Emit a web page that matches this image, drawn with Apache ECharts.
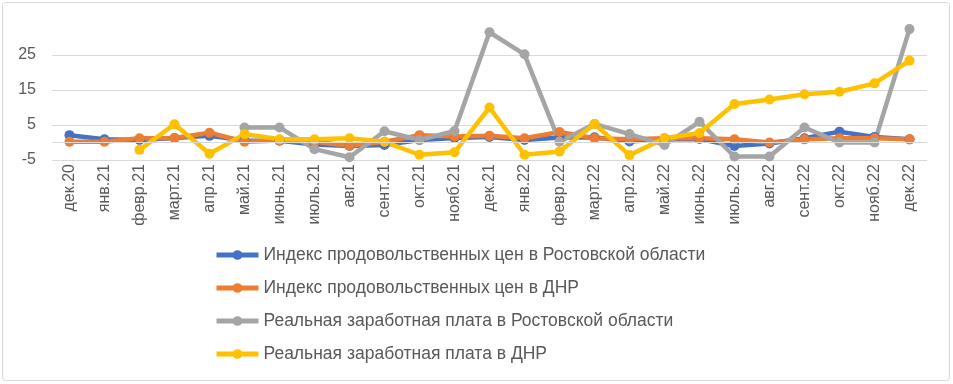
<!DOCTYPE html>
<html>
<head>
<meta charset="utf-8">
<script src="https://cdn.jsdelivr.net/npm/echarts@6/dist/echarts.min.js"></script>
<style>
html,body{margin:0;padding:0;background:#fff;}
#chart{width:953px;height:384px;}
</style>
</head>
<body>
<div id="chart"></div>
<script>
var categories = ['дек.20','янв.21','февр.21','март.21','апр.21','май.21','июнь.21','июль.21','авг.21','сент.21','окт.21','нояб.21','дек.21','янв.22','февр.22','март.22','апр.22','май.22','июнь.22','июль.22','авг.22','сент.22','окт.22','нояб.22','дек.22'];
var seriesNames = ['Индекс продовольственных цен в Ростовской области','Индекс продовольственных цен в ДНР','Реальная заработная плата в Ростовской области','Реальная заработная плата в ДНР'];
var foodRostov = [2.1, 0.9, 0.7, 1.3, 1.9, 0.6, 0.5, -0.6, -1.0, -0.7, 0.7, 1.3, 1.6, 0.7, 1.4, 1.5, 0.3, 0.9, 1.0, -1.0, -0.3, 1.2, 3.1, 1.6, 0.9];
var foodDNR = [0.2, 0.2, 1.2, 1.3, 2.8, 0.2, 0.6, 0.2, -0.9, 0.2, 2.1, 1.7, 1.9, 1.2, 3.0, 1.2, 0.9, 1.2, 1.2, 0.9, 0.0, 0.9, 1.2, 1.2, 0.9];
var wageRostov = [null, null, null, null, null, 4.3, 4.3, -1.9, -4.2, 3.2, 0.7, 3.3, 31.5, 25.2, 0.2, 5.3, 2.4, -0.7, 5.9, -4.0, -4.0, 4.3, 0.0, 0.0, 32.4];
var wageDNR = [null, null, -2.1, 5.2, -3.2, 2.4, 0.9, 0.9, 1.2, 0.2, -3.5, -2.8, 10.0, -3.5, -2.6, 5.3, -3.6, 1.2, 2.7, 11.0, 12.3, 13.8, 14.5, 16.9, 23.4];
var yMin = -5, yMax = 35, yInterval = 10;

var colors = ['#4472C4', '#ED7D31', '#A5A5A5', '#FFC000'];
var font = '"Liberation Sans", Arial, sans-serif';

function mkSeries(name, data, color, extra) {
  var s = {
    name: name,
    type: 'line',
    data: data,
    symbol: 'circle',
    symbolSize: 10,
    connectNulls: false,
    lineStyle: { width: 4.5, color: color },
    itemStyle: { color: color },
    emphasis: { disabled: true },
    animation: false
  };
  if (extra) { for (var k in extra) s[k] = extra[k]; }
  return s;
}

var chart = echarts.init(document.getElementById('chart'));
chart.setOption({
  animation: false,
  color: colors,
  textStyle: { fontFamily: font },
  graphic: [{
    type: 'rect',
    shape: { x: 2.5, y: 2.5, width: 947, height: 378, r: 3 },
    style: { fill: 'none', stroke: '#d9d9d9', lineWidth: 1 },
    silent: true
  }],
  grid: { left: 52, right: 26, top: 20, bottom: 224 },
  legend: {
    orient: 'vertical',
    left: 209,
    top: 241,
    itemWidth: 42,
    itemHeight: 12,
    itemGap: 15,
    lineStyle: { width: 5 },
    textStyle: { fontSize: 17.5, color: '#595959', fontFamily: font },
    data: seriesNames
  },
  xAxis: {
    type: 'category',
    data: categories,
    boundaryGap: true,
    axisLine: { show: false, onZero: false },
    axisTick: { show: false },
    axisLabel: { rotate: 90, interval: 0, margin: 4, fontSize: 16, color: '#595959', fontFamily: font }
  },
  yAxis: {
    type: 'value',
    min: yMin,
    max: yMax,
    interval: yInterval,
    axisLine: { show: false },
    axisTick: { show: false },
    axisLabel: { fontSize: 16, color: '#595959', margin: 16, fontFamily: font, showMaxLabel: false },
    splitLine: { show: true, lineStyle: { color: ['#d9d9d9', '#d9d9d9', '#d9d9d9', '#d9d9d9', 'rgba(0,0,0,0)'], width: 1 } }
  },
  series: [
    mkSeries(seriesNames[0], foodRostov, colors[0], {
      markLine: {
        silent: true, symbol: ['none', 'none'], label: { show: false },
        lineStyle: { color: '#d9d9d9', type: 'solid', width: 1 },
        data: [{ yAxis: 0 }], animation: false
      }
    }),
    mkSeries(seriesNames[1], foodDNR, colors[1]),
    mkSeries(seriesNames[2], wageRostov, colors[2]),
    mkSeries(seriesNames[3], wageDNR, colors[3])
  ]
});
</script>
</body>
</html>
